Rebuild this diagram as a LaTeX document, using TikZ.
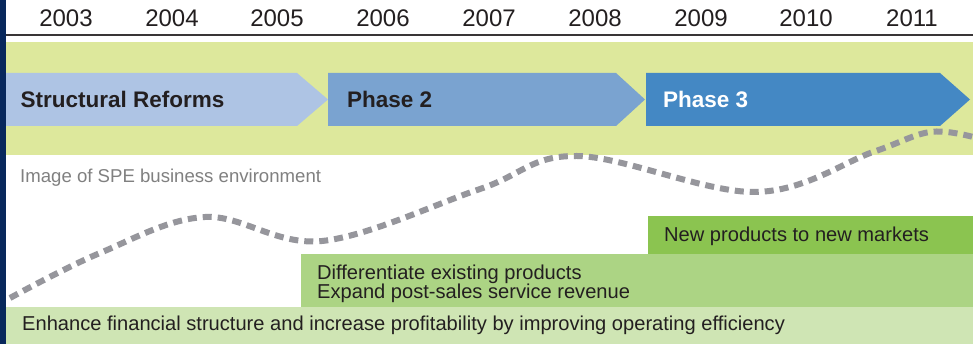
\documentclass[tikz,border=0pt]{standalone}
\usepackage{fontspec}
\setmainfont{Liberation Sans}
\definecolor{navy}{RGB}{8,40,92}
\definecolor{bandgreen}{RGB}{221,232,156}
\definecolor{arrowA}{RGB}{174,196,228}
\definecolor{arrowB}{RGB}{122,163,208}
\definecolor{arrowC}{RGB}{68,136,196}
\definecolor{boxA}{RGB}{139,196,80}
\definecolor{boxB}{RGB}{172,212,132}
\definecolor{boxC}{RGB}{207,229,180}
\definecolor{txt}{RGB}{35,31,32}
\definecolor{graytxt}{RGB}{128,128,128}
\definecolor{curvegray}{RGB}{150,150,156}
\tikzset{
  yearlabel/.style={anchor=base, font=\fontsize{24}{28}\selectfont, text=txt, inner sep=0pt},
  phaselabel/.style={anchor=base west, font=\fontsize{22.5}{26}\selectfont\bfseries, inner sep=0pt},
  boxlabel/.style={anchor=base west, font=\fontsize{20.1}{21}\selectfont, text=txt, inner sep=0pt},
  envcurve/.style={draw=curvegray, line width=6pt, dash pattern=on 9pt off 6pt},
}
\begin{document}
\begin{tikzpicture}[x=1pt,y=-1pt]
\useasboundingbox (0,0) rectangle (973,344);
\fill[white] (0,0) rectangle (973,344);
% green band
\fill[bandgreen] (6,42) rectangle (973,155);
% top rule
\draw[txt!90, line width=1.4pt] (6,35) -- (973,35);
% years
\foreach \yr/\xx in {2003/66,2004/172,2005/277,2006/383,2007/489,2008/595,2009/701,2010/806,2011/912}{
  \node[yearlabel] (y\yr) at (\xx,26.7) {\yr};
}
% phase arrows
\fill[arrowA] (6,73) -- (297,73) -- (328,99.5) -- (297,126) -- (6,126) -- cycle;
\fill[arrowB] (328,73) -- (616,73) -- (645,99.5) -- (616,126) -- (328,126) -- cycle;
\fill[arrowC] (646,73) -- (940,73) -- (970,99.5) -- (940,126) -- (646,126) -- cycle;
\node[phaselabel, text=txt] (p1) at (20.5,107.3) {Structural Reforms};
\node[phaselabel, text=txt] (p2) at (347,107.3) {Phase 2};
\node[phaselabel, text=white] (p3) at (663,107.3) {Phase 3};
% bottom boxes
\fill[boxC] (6,307) rectangle (973,344);
\fill[boxB] (301,254) rectangle (973,307);
\fill[boxA] (648,216) rectangle (973,254);
\node[boxlabel] (t1) at (22,330) {Enhance financial structure and increase profitability by improving operating efficiency};
\node[boxlabel] (t2) at (317,279.3) {Differentiate existing products};
\node[boxlabel] (t3) at (317,298.5) {Expand post-sales service revenue};
\node[boxlabel] (t4) at (664,241.7) {New products to new markets};
% environment label
\node[boxlabel, text=graytxt, font=\fontsize{18.6}{20}\selectfont] (env) at (20,182.7) {Image of SPE business environment};
% curve
\draw[envcurve] plot[smooth, tension=0.6] coordinates {(10,298) (100,253) (205,217) (322,241) (480,189) (577,156) (755,192) (873,152) (930,132) (973,137)};
% navy bar
\fill[navy] (0,0) rectangle (6,344);
\end{tikzpicture}
\end{document}
